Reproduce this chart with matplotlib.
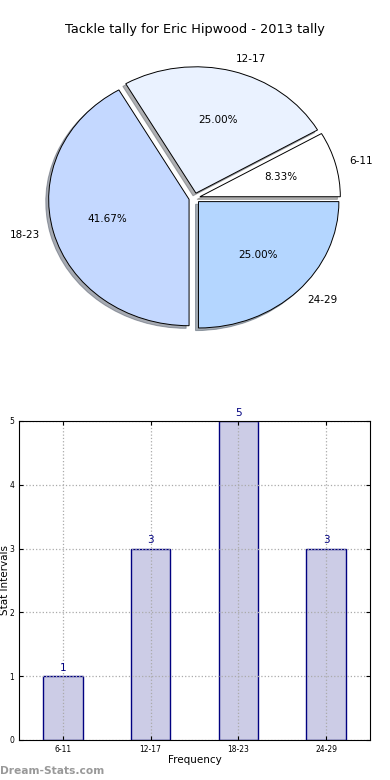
import matplotlib
matplotlib.use("Agg")
import matplotlib.pyplot as plt

# data
intervals = ["6-11", "12-17", "18-23", "24-29"]
tallies = [1, 3, 5, 3]
slice_colors = ["#ffffff", "#eaf2ff", "#c4d8ff", "#b4d6ff"]
explode = [0.04, 0.04, 0.04, 0.04]

fig = plt.figure(figsize=(3.9, 7.8), dpi=100)

# Pie chart (top)
ax1 = fig.add_axes([0.0487, 0.5436, 0.9, 0.405])
wedges, texts, autotexts = ax1.pie(tallies, labels=intervals, colors=slice_colors,
                                   explode=explode, autopct="%.2f%%",
                                   shadow={"ox": -0.015, "oy": -0.015, "shade": 0.6},
                                   startangle=0,
                                   wedgeprops={"edgecolor": "black", "linewidth": 0.7},
                                   textprops={"fontsize": 7.5})
ax1.set_aspect("auto")
ax1.set_xlim(-1.25, 1.25)
ax1.set_ylim(-1.25, 1.25)
ax1.set_title("Tackle tally for Eric Hipwood - 2013 tally", fontsize=9.3, pad=5)

# Bar chart (bottom)
ax2 = fig.add_axes([0.0487, 0.0513, 0.9, 0.409])
pos = list(range(len(intervals)))
bars = ax2.bar(pos, tallies, width=0.45, color="#cccce6", edgecolor="#000080", linewidth=1)
for p, v in zip(pos, tallies):
    ax2.text(p, v + 0.05, str(v), ha="center", va="bottom", color="#000080", fontsize=7.5)
ax2.set_xlim(-0.5, 3.5)
ax2.set_ylim(0, 5)
ax2.set_xticks(pos)
ax2.set_xticklabels(intervals)
ax2.set_yticks(range(0, 6))
ax2.tick_params(direction="in", labelsize=5.5, top=True, right=True, length=3)
ax2.grid(True, linestyle=":", color="#aaaaaa", linewidth=0.9)
ax2.set_axisbelow(False)
for s in ax2.spines.values():
    s.set_zorder(3)
ax2.set_xlabel("Frequency", fontsize=7.5, labelpad=1)
ax2.set_ylabel("Stat Intervals", fontsize=7.5)
ax2.yaxis.set_label_coords(-0.027, 0.5)

# watermark
fig.text(0.0, 0.008, "Dream-Stats.com", fontsize=7.7, color="#999999", fontweight="bold")

fig.savefig("out.png", dpi=100)
